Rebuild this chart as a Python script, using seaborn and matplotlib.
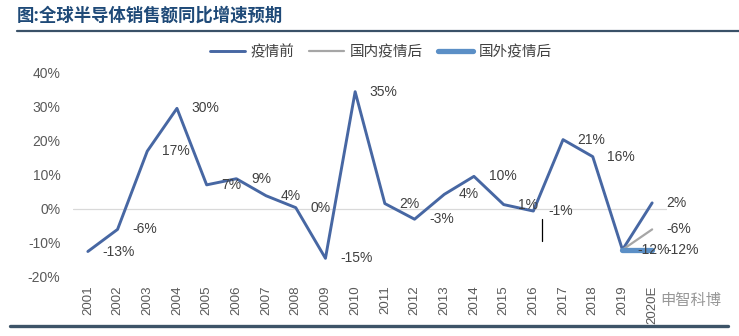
import numpy as np
import pandas as pd
import matplotlib
matplotlib.use("Agg")
import matplotlib.pyplot as plt
import seaborn as sns
from matplotlib.lines import Line2D

years = ["2001", "2002", "2003", "2004", "2005", "2006", "2007", "2008", "2009", "2010",
         "2011", "2012", "2013", "2014", "2015", "2016", "2017", "2018", "2019", "2020E"]
pre_covid = [-12.5, -6, 17, 29.6, 7.1, 8.9, 3.9, 0.4, -14.5, 34.5,
             1.6, -3, 4.3, 9.6, 1.3, -0.6, 20.4, 15.4, -12, 1.8]
pre_labels = ["-13%", "-6%", "17%", "30%", "7%", "9%", "4%", "0%", "-15%", "35%",
              "2%", "-3%", "4%", "10%", "1%", "-1%", "21%", "16%", "-12%", "2%"]
domestic_years = ["2019", "2020E"]
domestic = [-12, -6]
domestic_labels = ["", "-6%"]
foreign_years = ["2019", "2020E"]
foreign = [-12, -12]
foreign_labels = ["", "-12%"]
series_names = ["疫情前", "国内疫情后", "国外疫情后"]
yticks = [-20, -10, 0, 10, 20, 30, 40]

sns.set_theme(style="white")
plt.rcParams['font.family'] = ['Liberation Sans', 'Noto Sans CJK SC', 'DejaVu Sans']

pos = {y: i for i, y in enumerate(years)}
df_pre = pd.DataFrame({"x": [pos[y] for y in years], "v": pre_covid})
df_dom = pd.DataFrame({"x": [pos[y] for y in domestic_years], "v": domestic})
df_for = pd.DataFrame({"x": [pos[y] for y in foreign_years], "v": foreign})

c_pre = "#4767A3"
c_dom = "#A6A6A6"
c_for = "#5B8FC6"

fig = plt.figure(figsize=(7.39, 3.36), dpi=100)
ax = fig.add_axes([73/739, 1-277/336, (667-73)/739, (277-73)/336])

ax.axhline(0, color="#D9D9D9", lw=0.9, zorder=1)
sns.lineplot(data=df_pre, x="x", y="v", ax=ax, color=c_pre, lw=2.1, zorder=3)
sns.lineplot(data=df_dom, x="x", y="v", ax=ax, color=c_dom, lw=1.6, zorder=4)
sns.lineplot(data=df_for, x="x", y="v", ax=ax, color=c_for, lw=3.8, zorder=5)

lab_kw = dict(textcoords="offset points", xytext=(10.5, 0), ha="left", va="center",
              fontsize=10, color="#404040", zorder=6)
for x, v, t in zip(df_pre["x"], df_pre["v"], pre_labels):
    ax.annotate(t, (x, v), **lab_kw)
for x, v, t in zip(df_dom["x"], df_dom["v"], domestic_labels):
    if t:
        ax.annotate(t, (x, v), **lab_kw)
for x, v, t in zip(df_for["x"], df_for["v"], foreign_labels):
    if t:
        ax.annotate(t, (x, v), **lab_kw)

# small stray vertical mark in the reference
ax.plot([15.3, 15.3], [-3, -9.5], color="black", lw=0.9, zorder=6)

ax.set_xlim(-0.5, len(years) - 0.5)
ax.set_ylim(-20, 40)
ax.set_xticks(range(len(years)))
ax.set_xticklabels(years, rotation=90, fontsize=9.5, color="#595959")
ax.set_yticks(yticks)
ax.set_yticklabels([f"{t}%" for t in yticks], fontsize=10, color="#595959")
ax.tick_params(axis="both", length=0)
ax.tick_params(axis="y", pad=9)
ax.tick_params(axis="x", pad=6)
ax.set_xlabel("")
ax.set_ylabel("")
for s in ax.spines.values():
    s.set_visible(False)

handles = [Line2D([], [], color=c_pre, lw=2.1),
           Line2D([], [], color=c_dom, lw=1.6),
           Line2D([], [], color=c_for, lw=3.8)]
fig.legend(handles, series_names, loc="center", bbox_to_anchor=(0.515, 1-52/336),
           ncol=3, frameon=False, fontsize=10.5, handlelength=2.4, columnspacing=1.0,
           handletextpad=0.4, labelcolor="#404040")

fig.text(17/739, 1-16/336, "图:全球半导体销售额同比增速预期", fontsize=12.5, fontweight="bold",
         color="#1F4A78", ha="left", va="center",
         family=['Noto Sans CJK SC', 'DejaVu Sans'])
fig.add_artist(Line2D([17/739, 1.0], [1-31/336, 1-31/336], color="#3A5168", lw=1.6))
fig.add_artist(Line2D([10/739, 728/739], [1-326/336, 1-326/336], color="#3D5468", lw=2.4))

fig.text(660/739, 1-300/336, "申智科博", fontsize=11, color="#8C8C8C", ha="left",
         va="center", family=['Noto Sans CJK SC', 'DejaVu Sans'], alpha=0.9)

fig.savefig("out.png", dpi=100, facecolor="white")
